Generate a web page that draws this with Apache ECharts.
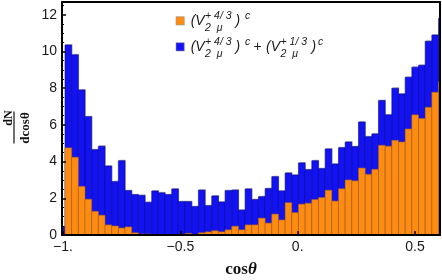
<!DOCTYPE html>
<html><head><meta charset="utf-8">
<script src="https://cdn.jsdelivr.net/npm/echarts@6/dist/echarts.min.js"></script>
<style>html,body{margin:0;padding:0;background:#fff}#c{width:442px;height:280px}</style>
</head><body><div id="c"></div>
<script>
// ---- data ----
const BIN_START = -1.0199;   // left edge of first (partially visible) bin
const BIN_WIDTH = 0.02842;
const totalCounts = [0.45,
  10.36, 9.82, 7.91, 6.45, 4.65, 4.84, 3.76, 2.91, 4.05, 2.42,
  2.2, 2.16, 1.78, 2.4, 2.3, 2.2, 2.51, 1.82, 1.82, 1.55,
  2.45, 1.6, 2.13, 1.8, 2.42, 2.45, 1.36, 2.51, 1.93, 2.09,
  2.53, 3.18, 2.4, 3.38, 3.27, 3.93, 3.56, 4.05, 3.62, 4.69,
  3.87, 4.76, 5.07, 4.82, 6.16, 5.36, 5.51, 7.33, 6.55, 8.0,
  7.69, 8.6, 9.15, 9.25, 10.56, 10.9, 11.8];
const partialCounts = [0,
  4.75, 4.24, 2.65, 1.95, 1.29, 1.08, 0.55, 0.49, 0.38, 0.44,
  0.12, 0.05, 0.05, 0, 0, 0, 0, 0, 0.09, 0,
  0.12, 0.17, 0.23, 0.17, 0.28, 0.48, 0.28, 0.55, 0.55, 0.92,
  0.65, 1.14, 0.82, 1.76, 1.22, 1.68, 1.73, 1.93, 2.04, 2.44,
  1.85, 2.52, 3.0, 2.95, 3.65, 3.31, 3.58, 4.89, 4.84, 5.16,
  5.07, 5.78, 6.55, 6.35, 6.96, 7.78, 8.36];
const xTickValues = [-1, -0.5, 0, 0.5];
const xTickLabels = ['\u22121.', '\u22120.5', '0.', '0.5'];
const yTickValues = [0, 2, 4, 6, 8, 10, 12];
const X_MIN = -1.0043, X_MAX = 0.6063, Y_MAX = 12.7;
const xTitle = ['cos', '\u03b8'];
const yTitleNum = 'dN', yTitleDen = 'dcos\u03b8';
const legendNames = ['(V\u2082\u03bc\u207a\u2074\u141f\u00b3)\u1d9c', '(V\u2082\u03bc\u207a\u2074\u141f\u00b3)\u1d9c + (V\u2082\u03bc\u207a\u00b9\u141f\u00b3)\u1d9c'];
const supA = '+ 4/ 3', supB = '+ 1/ 3', subText = '2  \u03bc', outerSup = 'c';

const ORANGE = '#FF8C12', BLUE = '#1212F2';

function binData(vals) {
  return vals.map((v, i) => [BIN_START + i * BIN_WIDTH, BIN_START + (i + 1) * BIN_WIDTH, v]);
}
function barRenderer(fill, stroke, shadow) {
  return function (params, api) {
    const a = api.coord([api.value(0), api.value(2)]);
    const b = api.coord([api.value(1), 0]);
    const w = b[0] - a[0], h = b[1] - a[1];
    const ch = [];
    if (h > 0.05) {
      if (shadow) ch.push({type: 'rect', shape: {x: a[0] + 0.8, y: a[1] - 1, width: w, height: h}, style: {fill: shadow}});
      ch.push({type: 'rect', shape: {x: a[0], y: a[1], width: w, height: h}, style: {fill: fill, stroke: stroke, lineWidth: 0.6}});
    }
    return {type: 'group', children: ch};
  };
}

const SANS = "'Liberation Sans', Arial, sans-serif";
const SERIF = "'Liberation Serif', 'Times New Roman', serif";
function T(text, x, base, size, italic, extra) {
  return Object.assign({
    type: 'text', x: x, y: base - 0.32 * size, z: 100,
    style: {text: text, font: (italic ? 'italic ' : '') + size + 'px ' + SANS, fill: '#1a1a1a',
      align: 'left', verticalAlign: 'middle', textAlign: 'left', textVerticalAlign: 'middle'}
  }, extra || {});
}
function legendLine(base, second) {
  const els = [
    T('(V', 190.7, base, 14, true),
    T(supA, 205, base - 6, 10.5, true),
    T(subText, 205, base + 5.5, 10.5, true),
    T(')', 235.5, base, 14, true),
    T(outerSup, 245, base - 6.5, 10.5, true)
  ];
  if (second) {
    els.push(T('+', 253.5, base, 14, false));
    els.push(T('(V', 266, base, 14, true));
    els.push(T(supB, 280.5, base - 6, 10.5, true));
    els.push(T(subText, 280.5, base + 5.5, 10.5, true));
    els.push(T(')', 311.5, base, 14, true));
    els.push(T(outerSup, 318, base - 6.5, 10.5, true));
  }
  return els;
}

const graphics = [].concat(
  [{type: 'rect', z: 100, shape: {x: 176, y: 16.7, width: 8.3, height: 8.3}, style: {fill: ORANGE, stroke: '#999', lineWidth: 0.6}},
   {type: 'rect', z: 100, shape: {x: 176, y: 42.7, width: 8.3, height: 8.3}, style: {fill: BLUE, stroke: '#999', lineWidth: 0.6}}],
  legendLine(25.5, false),
  legendLine(51.5, true),
  [{type: 'text', x: 241, y: 270, z: 100,
    style: {text: '{a|' + xTitle[0] + '}{b|' + xTitle[1] + '}', align: 'center', verticalAlign: 'middle', textAlign: 'center', textVerticalAlign: 'middle',
      rich: {a: {font: 'bold 17px ' + SERIF, fill: '#111'}, b: {font: 'italic bold 17px ' + SERIF, fill: '#111'}}}},
   {type: 'text', x: 8.5, y: 118, rotation: Math.PI / 2, z: 100,
    style: {text: yTitleNum, font: 'bold 12px ' + SERIF, fill: '#111', align: 'center', verticalAlign: 'middle', textAlign: 'center', textVerticalAlign: 'middle'}},
   {type: 'line', z: 100, shape: {x1: 14, y1: 111.5, x2: 14, y2: 143.5}, style: {stroke: '#111', lineWidth: 1.2}},
   {type: 'text', x: 25.5, y: 128, rotation: Math.PI / 2, z: 100,
    style: {text: yTitleDen, font: 'bold 13px ' + SERIF, fill: '#111', align: 'center', verticalAlign: 'middle', textAlign: 'center', textVerticalAlign: 'middle'}}]
);

const chart = echarts.init(document.getElementById('c'), null, {renderer: 'canvas'});
chart.setOption({
  animation: false,
  backgroundColor: '#fff',
  grid: {left: 62, right: 2, top: 2, bottom: 45},
  xAxis: [{
    type: 'value', min: X_MIN, max: X_MAX, position: 'bottom', z: 10,
    axisLine: {show: true, onZero: false, lineStyle: {color: '#000', width: 2}},
    axisTick: {show: true, inside: true, length: 4, customValues: xTickValues, lineStyle: {color: '#000', width: 1.5}},
    axisLabel: {customValues: xTickValues, fontSize: 14, fontFamily: SANS, color: '#1a1a1a', margin: 5,
      formatter: v => { const i = xTickValues.findIndex(t => Math.abs(t - v) < 1e-6); return i >= 0 ? xTickLabels[i] : ''; }},
    splitLine: {show: false}
  }, {
    type: 'value', min: X_MIN, max: X_MAX, position: 'top', z: 10,
    axisLine: {show: true, onZero: false, lineStyle: {color: '#000', width: 2}},
    axisTick: {show: false}, axisLabel: {show: false}, splitLine: {show: false}
  }],
  yAxis: [{
    type: 'value', min: 0, max: Y_MAX, interval: 2, position: 'left', z: 10,
    axisLine: {show: true, onZero: false, lineStyle: {color: '#000', width: 2}},
    axisTick: {show: true, inside: true, length: 4, customValues: yTickValues, lineStyle: {color: '#000', width: 1.5}},
    minorTick: {show: true, splitNumber: 4, length: 2, lineStyle: {color: '#000', width: 1}},
    axisLabel: {customValues: yTickValues, fontSize: 14, fontFamily: SANS, color: '#1a1a1a', margin: 5},
    splitLine: {show: false}
  }, {
    type: 'value', min: 0, max: Y_MAX, position: 'right', z: 10,
    axisLine: {show: true, onZero: false, lineStyle: {color: '#000', width: 2}},
    axisTick: {show: false}, axisLabel: {show: false}, splitLine: {show: false}
  }],
  series: [{
    name: legendNames[1], type: 'custom', clip: true, xAxisIndex: 0, yAxisIndex: 0,
    renderItem: barRenderer(BLUE, '#0a0a90', '#c4c4c4'),
    encode: {x: [0, 1], y: 2}, data: binData(totalCounts)
  }, {
    name: legendNames[0], type: 'custom', clip: true, xAxisIndex: 0, yAxisIndex: 0,
    renderItem: barRenderer(ORANGE, '#a8621c', null),
    encode: {x: [0, 1], y: 2}, data: binData(partialCounts)
  }],
  graphic: graphics
});
</script></body></html>
